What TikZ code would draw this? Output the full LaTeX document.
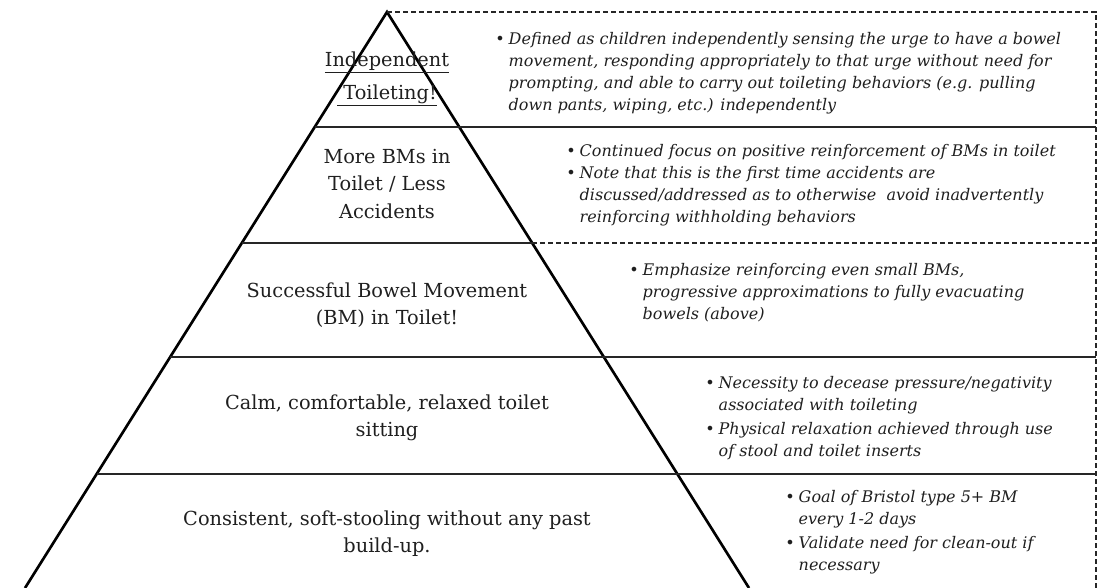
\documentclass[tikz,border=0pt]{standalone}
\usepackage{fontspec}
\setmainfont{DejaVu Serif}
\usepackage{tikz}

\tikzset{
	pyrline/.style={line width=2pt, black},
	tierline/.style={line width=1.8pt, black!85},
	tierdash/.style={line width=1.3pt, black!85, dash pattern=on 4pt off 2pt},
	tiertext/.style={align=center, text=black!88, font=\fontsize{14.5}{20.3}\selectfont},
	notetext/.style={anchor=west, inner sep=0pt, text=black!88, font=\itshape\fontsize{12}{16.5}\selectfont},
}

\begin{document}
\begin{tikzpicture}[x=0.75pt, y=-0.75pt]
				\useasboundingbox (0,0) rectangle (1109,588);
				
				% Pyramid
				\coordinate (apex) at (387,12);
				\coordinate (baseL) at (25,588);
				\coordinate (baseR) at (749,588);
				\coordinate (boxTR) at (1096,12);
				\coordinate (boxBR) at (1096,588);
				\draw[pyrline] (baseL) -- (apex) -- (baseR);
				
				% Tier lines
				\draw[tierline] (314.8,127) -- (1096,127);
				\draw[tierline] (242,243) -- (532,243);
				\draw[tierdash] (532,243) -- (1096,243);
				\draw[tierline] (170.3,357) -- (1096,357);
				\draw[tierline] (97,474) -- (1096,474);
				
				% Outer box
				\draw[tierdash] (apex) -- (boxTR) -- (boxBR);
				
				% Levels
				\node (level1) [tiertext] at (387,79) {\underline{Independent}\\[4.5pt]\underline{\ Toileting!}};
				\node (level2) [tiertext] at (387,184) {More BMs in\\Toilet / Less\\Accidents};
				\node (level3) [tiertext] at (387,305) {Successful Bowel Movement\\(BM) in Toilet!};
				\node (level4) [tiertext] at (387,418) {Calm, comfortable, relaxed toilet\\sitting};
				\node (level5) [tiertext] at (387,534) {Consistent, soft-stooling without any past\\build-up.};
				
				% Notes
				\node (note1) [notetext] at (495,73) {\begin{tabular}{@{}l@{\hspace{3pt}}l@{}}
					\textbullet & Defined as children independently sensing the urge to have a bowel\\
					& movement, responding appropriately to that urge without need for\\
					& prompting, and able to carry out toileting behaviors (e.g. pulling\\
					& down pants, wiping, etc.) independently
				\end{tabular}};
				\node (note2) [notetext] at (566,185) {\begin{tabular}{@{}l@{\hspace{3pt}}l@{}}
					\textbullet & Continued focus on positive reinforcement of BMs in toilet\\
					\textbullet & Note that this is the first time accidents are\\
					& discussed/addressed as to otherwise\ \ avoid inadvertently\\
					& reinforcing withholding behaviors
				\end{tabular}};
				\node (note3) [notetext] at (629,293) {\begin{tabular}{@{}l@{\hspace{3pt}}l@{}}
					\textbullet & Emphasize reinforcing even small BMs,\\
					& progressive approximations to fully evacuating\\
					& bowels (above)
				\end{tabular}};
				\node (note4) [notetext] at (705,418) {\begin{tabular}{@{}l@{\hspace{3pt}}l@{}}
					\textbullet & Necessity to decease pressure/negativity\\
					& associated with toileting\\[1pt]
					\textbullet & Physical relaxation achieved through use\\
					& of stool and toilet inserts
				\end{tabular}};
				\node (note5) [notetext] at (785,532) {\begin{tabular}{@{}l@{\hspace{3pt}}l@{}}
					\textbullet & Goal of Bristol type 5+ BM\\
					& every 1-2 days\\[2pt]
					\textbullet & Validate need for clean-out if\\
					& necessary
				\end{tabular}};
				
			\end{tikzpicture}
\end{document}
